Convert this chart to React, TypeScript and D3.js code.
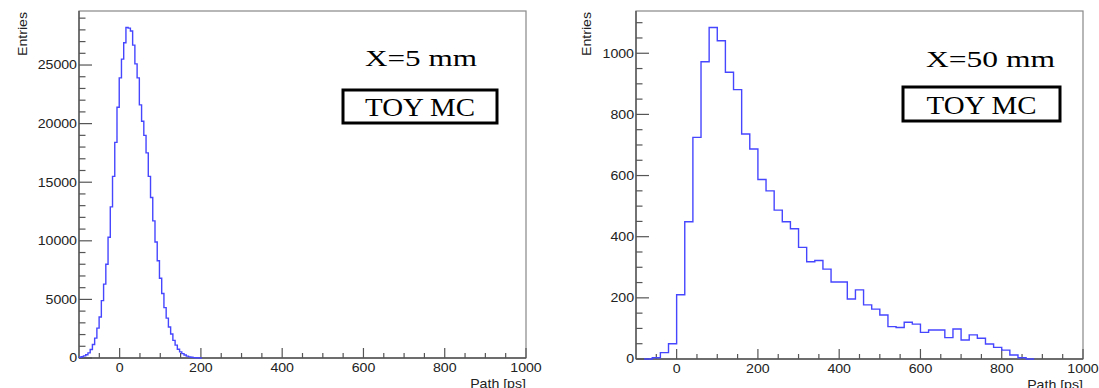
import * as d3 from 'd3';

// shared x axis of both histograms
const X_MIN = -100;
const X_MAX = 1000;
const X_MAJOR = [0, 200, 400, 600, 800, 1000];
const X_MINOR_STEP = 50;
const X_TITLE = 'Path [ps]';
const Y_TITLE = 'Entries';

// X = 5 mm : 200 bins over [-100, 1000], only the first ones are filled
const NBINS_5MM = 200;
const COUNTS_5MM = [
  60, 110, 180, 280, 440, 720, 1150, 1700, 2550, 3500,
  4900, 6300, 8000, 10300, 12900, 15500, 18400, 21400, 23900, 25500,
  26900, 28200, 28150, 27900, 26700, 25100, 23900, 21600, 20200, 19000,
  17500, 15500, 13700, 11700, 9900, 8300, 6800, 5500, 4300, 3400,
  2650, 2050, 1500, 1100, 750, 520, 370, 250, 160, 100,
  60, 35, 20, 10,
];
const Y_MAJOR_5MM = [0, 5000, 10000, 15000, 20000, 25000];
const Y_MINOR_5MM = 1000;

// X = 50 mm : 55 bins over [-100, 1000]
const NBINS_50MM = 55;
const COUNTS_50MM = [
  0, 0, 4, 21, 50, 210, 449, 725, 972, 1084,
  1041, 938, 881, 736, 687, 587, 550, 487, 449, 426,
  365, 318, 322, 294, 252, 252, 196, 226, 177, 163,
  144, 106, 103, 120, 114, 87, 95, 95, 70, 98,
  62, 79, 68, 49, 38, 29, 13, 4, 0, 0,
  0, 0, 0, 0, 0,
];
const Y_MAJOR_50MM = [0, 200, 400, 600, 800, 1000];
const Y_MINOR_50MM = 50;

const SANS = '"Liberation Sans", Arial, sans-serif';
const SERIF = '"Liberation Serif", "Times New Roman", serif';
const SX = 1.18; // the picture is a bit wider than tall

type Frame = { x0: number; x1: number; y0: number; y1: number };

const Panel = ({
  frame, counts, nBins, yMajor, yMinor, label, labelW, yTitleX, annot,
}: {
  frame: Frame;
  counts: number[];
  nBins: number;
  yMajor: number[];
  yMinor: number;
  label: string;
  labelW: number;
  yTitleX: number;
  annot: { tx: number; ty: number; bx: number; by: number; bw: number; bh: number };
}) => {
  const vals = d3.range(nBins).map(i => counts[i] ?? 0);
  const yMax = (d3.max(vals) || 1) * 1.05;
  const x = d3.scaleLinear().domain([X_MIN, X_MAX]).range([frame.x0, frame.x1]);
  const y = d3.scaleLinear().domain([0, yMax]).range([frame.y1, frame.y0]);
  const bw = (X_MAX - X_MIN) / nBins;

  // only draw the range that has entries
  const nz = vals.map((v, i) => (v > 0 ? i : -1)).filter(i => i >= 0);
  const a = Math.max(0, nz[0] - 1);
  const b = Math.min(nBins - 1, nz[nz.length - 1] + 1);
  const pts: [number, number][] = d3.range(a, b + 1).map(i => [X_MIN + i * bw, vals[i]]);
  pts.push([X_MIN + (b + 1) * bw, vals[b]]);
  const path = d3.line<[number, number]>()
    .x(d => x(d[0]))
    .y(d => y(d[1]))
    .curve(d3.curveStepAfter)(pts) || '';

  const xMinor = d3.range(X_MIN + X_MINOR_STEP, X_MAX, X_MINOR_STEP).filter(v => !X_MAJOR.includes(v));
  const yMinorT = d3.range(0, yMax, yMinor).filter(v => !yMajor.includes(v));
  const axisCol = '#555';

  return (
    <g>
      {/* frame */}
      <rect x={frame.x0} y={frame.y0} width={frame.x1 - frame.x0} height={frame.y1 - frame.y0}
        fill="none" stroke="#888" strokeWidth={1.2} />
      <line x1={frame.x0} x2={frame.x0} y1={frame.y0} y2={frame.y1} stroke={axisCol} strokeWidth={1.4} />
      <line x1={frame.x0} x2={frame.x1} y1={frame.y1} y2={frame.y1} stroke={axisCol} strokeWidth={1.4} />

      {/* x ticks */}
      {X_MAJOR.map(v => (
        <line key={'xM' + v} x1={x(v)} x2={x(v)} y1={frame.y1} y2={frame.y1 - 10} stroke={axisCol} strokeWidth={1.2} />
      ))}
      {xMinor.map(v => (
        <line key={'xm' + v} x1={x(v)} x2={x(v)} y1={frame.y1} y2={frame.y1 - 5} stroke={axisCol} strokeWidth={1.2} />
      ))}
      {X_MAJOR.map(v => (
        <text key={'xl' + v} transform={`translate(${x(v)},${frame.y1 + 14}) scale(${SX},1)`}
          textAnchor="middle" fontFamily={SANS} fontSize={12} fill="#222">{v}</text>
      ))}
      <text transform={`translate(${frame.x1},${frame.y1 + 30}) scale(${SX},1)`} textAnchor="end"
        fontFamily={SANS} fontSize={12} fill="#222">{X_TITLE}</text>

      {/* y ticks */}
      {yMajor.map(v => (
        <line key={'yM' + v} x1={frame.x0} x2={frame.x0 + 13} y1={y(v)} y2={y(v)} stroke={axisCol} strokeWidth={1.2} />
      ))}
      {yMinorT.map(v => (
        <line key={'ym' + v} x1={frame.x0} x2={frame.x0 + 6.5} y1={y(v)} y2={y(v)} stroke={axisCol} strokeWidth={1.2} />
      ))}
      {yMajor.map(v => (
        <text key={'yl' + v} transform={`translate(${frame.x0 - 2},${y(v) + 4.3}) scale(${SX},1)`}
          textAnchor="end" fontFamily={SANS} fontSize={12} fill="#222">{v}</text>
      ))}
      <text transform={`translate(${frame.x0 + yTitleX},${frame.y0 + 1}) rotate(-90) scale(${SX},1)`}
        textAnchor="end" fontFamily={SANS} fontSize={12} fill="#222">{Y_TITLE}</text>

      {/* histogram */}
      <path d={path} fill="none" stroke="#4646ff" strokeWidth={1.4} />

      {/* annotations */}
      <text x={frame.x0 + annot.tx} y={frame.y0 + annot.ty} fontFamily={SERIF} fontSize={24}
        textLength={labelW} lengthAdjust="spacingAndGlyphs" fill="#000">{label}</text>
      <rect x={frame.x0 + annot.bx} y={frame.y0 + annot.by} width={annot.bw} height={annot.bh}
        fill="#fff" stroke="#000" strokeWidth={3} />
      <text x={frame.x0 + annot.bx + annot.bw / 2} y={frame.y0 + annot.by + annot.bh - 7}
        textAnchor="middle" fontFamily={SERIF} fontSize={25}
        textLength={110} lengthAdjust="spacingAndGlyphs" fill="#000">TOY MC</text>
    </g>
  );
};

export default function App() {
  return (
    <svg width={1099} height={388} style={{ position: 'absolute', left: 0, top: 0, background: '#fff' }}>
      <rect width={1099} height={388} fill="#fff" />
      <Panel
        frame={{ x0: 79, x1: 526, y0: 11, y1: 358 }}
        counts={COUNTS_5MM} nBins={NBINS_5MM}
        yMajor={Y_MAJOR_5MM} yMinor={Y_MINOR_5MM}
        label="X=5 mm" labelW={112} yTitleX={-52}
        annot={{ tx: 286, ty: 55, bx: 264, by: 79, bw: 154, bh: 33 }}
      />
      <Panel
        frame={{ x0: 636, x1: 1083, y0: 11, y1: 359 }}
        counts={COUNTS_50MM} nBins={NBINS_50MM}
        yMajor={Y_MAJOR_50MM} yMinor={Y_MINOR_50MM}
        label="X=50 mm" labelW={129} yTitleX={-45}
        annot={{ tx: 290, ty: 56, bx: 267, by: 76, bw: 157, bh: 34 }}
      />
    </svg>
  );
}
